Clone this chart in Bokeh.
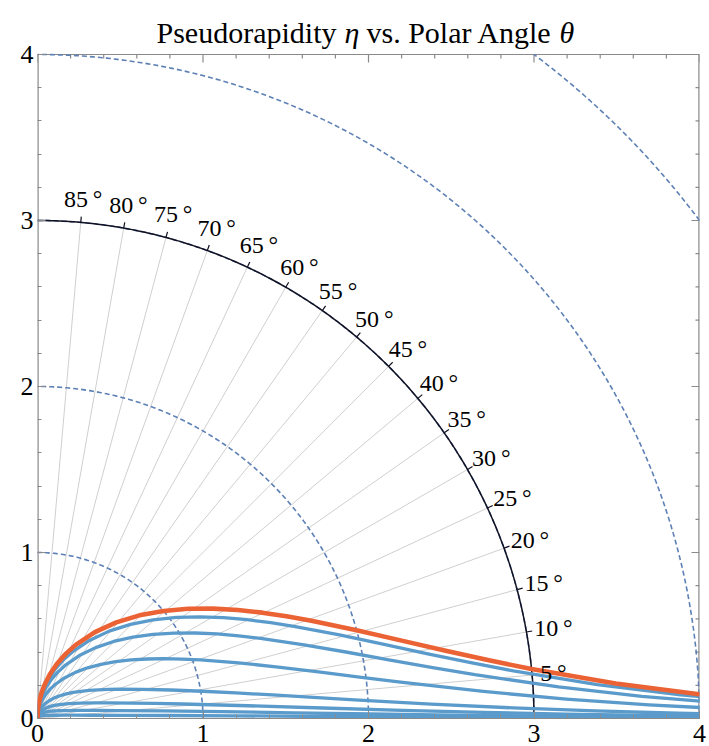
import numpy as np
from bokeh.plotting import figure
from bokeh.models import FixedTicker, ColumnDataSource, Range1d
from bokeh.core.properties import value
from bokeh.embed import file_html
from bokeh.resources import INLINE

# ---------------- data ----------------
TITLE_PARTS = ["Pseudorapidity", "\u03b7", "vs. Polar Angle", "\u03b8"]
TITLE_ITALIC = [False, True, False, True]
TITLE_X_PX = [156, 344, 366, 559]      # canvas x where each piece starts
TITLE_BASELINE_PX = 32

# polar angle (deg) of the sampled curve points
THETA_DEG = [90.0, 87.136, 84.280, 81.438, 78.616, 74.439, 70.344, 66.351, 62.476, 56.317,
             50.569, 45.259, 40.395, 35.972, 31.974, 28.378, 25.157, 22.279, 19.716, 15.414,
             12.034, 9.385, 7.316, 5.700, 3.459, 2.099, 1.273, 0.772, 0.468, 0.284,
             0.172, 0.104, 0.063, 0.038]

# radius of each curve at those angles
R_ETA = [0.0, 0.05, 0.1, 0.15, 0.2, 0.275, 0.35, 0.425, 0.5, 0.625, 0.75, 0.875, 1.0, 1.125,
         1.25, 1.375, 1.5, 1.625, 1.75, 2.0, 2.25, 2.5, 2.75, 3.0, 3.5, 4.0, 4.5]
R_M05 = [0.0, 0.0447, 0.0895, 0.1343, 0.1791, 0.2466, 0.3143, 0.3823, 0.4507, 0.5655, 0.6815,
         0.7987, 0.9171, 1.0365, 1.1569, 1.2781, 1.4001, 1.5226, 1.6457, 1.8929, 2.1412,
         2.3901, 2.6394, 2.8891, 3.3887, 3.8885, 4.3885]
R_M1 = [0.0, 0.0354, 0.0708, 0.1063, 0.1419, 0.1957, 0.2500, 0.3049, 0.3606, 0.4554, 0.5529,
        0.6533, 0.7567, 0.8630, 0.9722, 1.0839, 1.1979, 1.3139, 1.4316, 1.6709, 1.9142,
        2.1601, 2.4075, 2.6559, 3.1543, 3.6538, 4.1536]
R_M2 = [0.0, 0.0224, 0.0448, 0.0673, 0.0899, 0.1242, 0.1591, 0.1946, 0.2310, 0.2938, 0.3599,
        0.4298, 0.5040, 0.5826, 0.6660, 0.7543, 0.8472, 0.9446, 1.0463, 1.2606, 1.4866,
        1.7210, 1.9612, 2.2050, 2.6989, 3.1966, 3.6958, 4.1955]
R_M5 = [0.0, 0.0098, 0.0196, 0.0295, 0.0395, 0.0546, 0.0700, 0.0858, 0.1020, 0.1303, 0.1606,
        0.1931, 0.2285, 0.2670, 0.3092, 0.3555, 0.4063, 0.4621, 0.5231, 0.6619, 0.8237,
        1.0073, 1.2100, 1.4277, 1.8930, 2.3792, 2.8740, 3.3721, 3.8714, 4.3711]
R_M10 = [0.0, 0.0050, 0.0100, 0.0150, 0.0200, 0.0277, 0.0355, 0.0436, 0.0518, 0.0663, 0.0817,
         0.0984, 0.1167, 0.1367, 0.1587, 0.1832, 0.2103, 0.2405, 0.2742, 0.3535, 0.4513,
         0.5706, 0.7131, 0.8791, 1.2731, 1.7244, 2.2046, 2.6970, 3.1941, 3.6931, 4.1926]
R_M20 = [0.0, 0.0025, 0.0050, 0.0075, 0.0101, 0.0139, 0.0178, 0.0219, 0.0260, 0.0333, 0.0411,
         0.0495, 0.0587, 0.0687, 0.0799, 0.0923, 0.1061, 0.1216, 0.1389, 0.1801, 0.2322,
         0.2977, 0.3798, 0.4815, 0.7529, 1.1162, 1.5491, 2.0207, 2.5096, 3.0055, 3.5039, 4.0033]
R_M50 = [0.0, 0.0010, 0.0020, 0.0030, 0.0040, 0.0056, 0.0071, 0.0088, 0.0104, 0.0133, 0.0164,
         0.0198, 0.0235, 0.0276, 0.0320, 0.0370, 0.0426, 0.0488, 0.0558, 0.0725, 0.0937,
         0.1207, 0.1551, 0.1990, 0.3250, 0.5217, 0.8088, 1.1857, 1.6271, 2.1028, 2.5934,
         3.0899, 3.5885, 4.0881]
BLUE_CURVES = [R_M05, R_M1, R_M2, R_M5, R_M10, R_M20, R_M50]

CIRCLE_RADII = [1, 2, 3, 4, 5]
SCALE_RADIUS = 3
ANGLE_MARKS = [5, 10, 15, 20, 25, 30, 35, 40, 45, 50, 55, 60, 65, 70, 75, 80, 85]
TICKS = [0, 1, 2, 3, 4]
MINOR_TICKS = [0.2, 0.4, 0.6, 0.8, 1.2, 1.4, 1.6, 1.8, 2.2, 2.4, 2.6, 2.8, 3.2, 3.4, 3.6, 3.8]
LIM = 4.0

# ---------------- styling / layout ----------------
FONT = "Liberation Serif"
DASH_BLUE = "#5E81B5"
CURVE_BLUE = "#5B9BCB"
ORANGE = "#EB6235"
FRAME_GRAY = "#8a8a8a"
MAJ_LEN, MIN_LEN = 8, 4                     # tick lengths, px

W, H = 709, 746
ML, MR, MB = 37, 10, 28
BOX_TOP_PX = 54                             # canvas y of the plot box top (y = 4)
FRAME_H = H - MB                            # frame spans the canvas from y=0 to the x axis
px_per_y = (FRAME_H - BOX_TOP_PX) / LIM
px_per_x = (W - ML - MR) / LIM
y_top = FRAME_H / px_per_y                  # data value at the canvas top

p = figure(width=W, height=H, x_range=Range1d(0, LIM), y_range=Range1d(0, y_top),
           output_backend="svg", toolbar_location=None,
           min_border_left=ML, min_border_right=MR, min_border_top=0, min_border_bottom=MB)
p.xgrid.visible = False
p.ygrid.visible = False
p.outline_line_color = None
p.background_fill_color = "white"
p.border_fill_color = "white"

for ax, so in ((p.xaxis[0], 6), (p.yaxis[0], 4)):
    ax.ticker = FixedTicker(ticks=TICKS, minor_ticks=MINOR_TICKS)
    ax.axis_line_color = FRAME_GRAY
    ax.axis_line_width = 1.2
    ax.major_tick_line_color = FRAME_GRAY
    ax.minor_tick_line_color = FRAME_GRAY
    ax.major_tick_in = MAJ_LEN
    ax.major_tick_out = 0
    ax.minor_tick_in = MIN_LEN
    ax.minor_tick_out = 0
    ax.major_label_text_font = FONT
    ax.major_label_text_color = "black"
    ax.major_label_text_font_size = "26px"
    ax.major_label_standoff = so
p.yaxis[0].axis_line_color = None

# plot box edges (left, top, right)
p.line([0, 0], [0, LIM], line_color=FRAME_GRAY, line_width=2.4)
p.line([0, LIM], [LIM, LIM], line_color=FRAME_GRAY, line_width=1.2)
p.line([LIM, LIM], [0, LIM], line_color=FRAME_GRAY, line_width=2.4)

# mirrored inward ticks on the top and right edges
for vals, ln in ((TICKS, MAJ_LEN), (MINOR_TICKS, MIN_LEN)):
    v = np.array(vals, dtype=float)
    p.segment(x0=v, y0=LIM, x1=v, y1=LIM - ln / px_per_y, line_color=FRAME_GRAY, line_width=1.2)
    p.segment(x0=LIM, y0=v, x1=LIM - ln / px_per_x, y1=v, line_color=FRAME_GRAY, line_width=1.2)

# radial grey lines
ang = np.radians(ANGLE_MARKS)
p.segment(x0=0, y0=0, x1=SCALE_RADIUS * np.cos(ang), y1=SCALE_RADIUS * np.sin(ang),
          line_color="#cfcfcf", line_width=1)

# dashed circles (kept inside the 4 x 4 box)
for r in CIRCLE_RADII:
    a0 = np.arccos(min(1.0, LIM / r))
    a1 = np.arcsin(min(1.0, LIM / r))
    phi = np.linspace(a0, a1, 300)
    p.line(r * np.cos(phi), r * np.sin(phi), line_color=DASH_BLUE, line_width=1.6,
           line_dash="5 3")

# solid scale circle with small outward ticks
phi = np.linspace(0, np.pi / 2, 300)
p.line(SCALE_RADIUS * np.cos(phi), SCALE_RADIUS * np.sin(phi), line_color="#111122",
       line_width=1.5)
p.segment(x0=SCALE_RADIUS * np.cos(ang), y0=SCALE_RADIUS * np.sin(ang),
          x1=(SCALE_RADIUS + 0.035) * np.cos(ang), y1=(SCALE_RADIUS + 0.035) * np.sin(ang),
          line_color="#111122", line_width=1.2)

# curves
th = np.radians(THETA_DEG)
for rr in BLUE_CURVES:
    rr = np.array(rr)
    t = th[:len(rr)]
    p.line(rr * np.cos(t), rr * np.sin(t), line_color=CURVE_BLUE, line_width=3.3,
           line_join="round", line_cap="round")
rr = np.array(R_ETA)
t = th[:len(rr)]
p.line(rr * np.cos(t), rr * np.sin(t), line_color=ORANGE, line_width=4.6,
       line_join="round", line_cap="round")

# angle labels
fs = 24
texts = [f"{a}\u2009\u00b0" for a in ANGLE_MARKS]
wpx = np.array([fs * (0.5 * len(str(a)) + 0.2 + 0.4) for a in ANGLE_MARKS])
hpx = 1.3 * fs
src = ColumnDataSource(dict(x=3.05 * np.cos(ang), y=3.05 * np.sin(ang), text=texts,
                            xo=(wpx / 2) * np.cos(ang), yo=-(hpx / 2) * np.sin(ang)))
p.text(x="x", y="y", text="text", x_offset="xo", y_offset="yo", source=src,
       text_align="center", text_baseline="middle", text_font=value(FONT),
       text_font_size=value(f"{fs}px"), text_color="black")

# title (drawn above the plot box)
ty = (FRAME_H - TITLE_BASELINE_PX) / px_per_y
for part, ital, xpx in zip(TITLE_PARTS, TITLE_ITALIC, TITLE_X_PX):
    p.text(x=[(xpx - ML) / px_per_x], y=[ty], text=[part], text_align="left",
           text_baseline="alphabetic", text_font=value(FONT), text_font_size=value("30px"),
           text_font_style=value("italic" if ital else "normal"), text_color="black")

open("out.html", "w").write(file_html(p, INLINE))
